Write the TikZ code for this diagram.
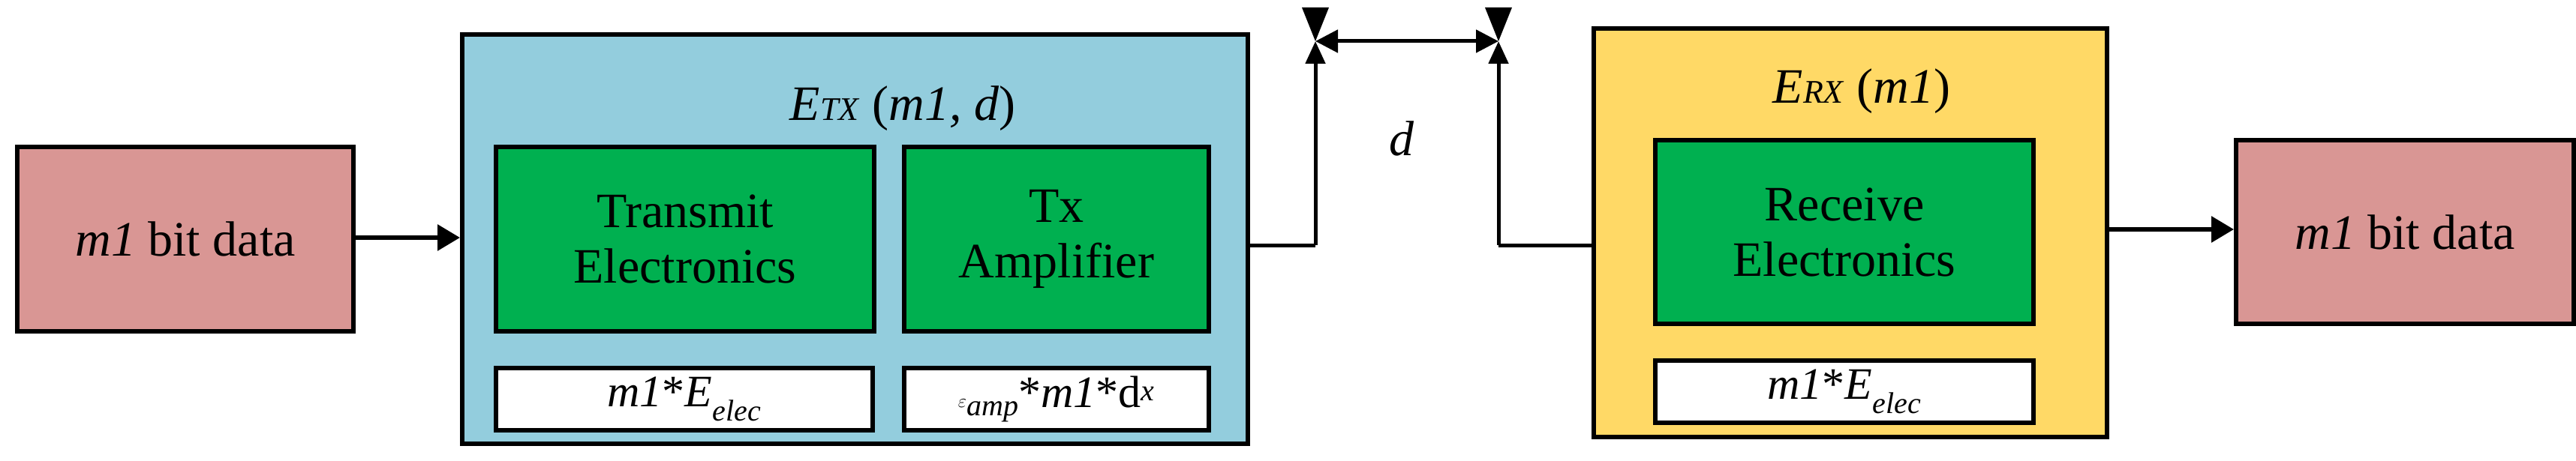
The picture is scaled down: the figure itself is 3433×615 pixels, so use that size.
\documentclass[tikz,border=0pt]{standalone}
\usepackage{fontspec}
\setmainfont{Liberation Serif}
\usetikzlibrary{arrows.meta}
\definecolor{pinkc}{HTML}{D99694}
\definecolor{bluec}{HTML}{93CDDD}
\definecolor{greenc}{HTML}{00B050}
\definecolor{yellowc}{HTML}{FFD966}
\begin{document}
\begin{tikzpicture}[x=1pt,y=-1pt,
  box/.style={draw=black,line width=6pt,minimum width=#1,inner sep=0pt,align=center},
  txt/.style={font=\fontsize{66}{74}\selectfont},
  lbl/.style={font=\fontsize{60}{66}\selectfont},
  arr/.style={line width=6pt,-{Triangle[length=30pt,width=34pt]}},
  ln/.style={line width=5pt}]
\useasboundingbox (0,0) rectangle (3433,615);
% big boxes
\node[box=1047pt,minimum height=546pt,fill=bluec,anchor=north west] (tx) at (613,43) {};
\node[box=684pt,minimum height=545pt,fill=yellowc,anchor=north west] (rx) at (2121,35) {};
\node[box=448pt,minimum height=246pt,fill=pinkc,anchor=north west,txt] (src) at (20,193) {\textit{m1} bit data};
\node[box=450pt,minimum height=245pt,fill=pinkc,anchor=north west,txt] (dst) at (2977,184) {\textit{m1} bit data};
\node[txt] (etx) at (1203,145) {\textit{E}{\fontsize{44}{50}\selectfont\textit{TX}} (\textit{m1, d})};
\node[txt] (erx) at (2481,122) {\textit{E}{\fontsize{44}{50}\selectfont\textit{RX}} (\textit{m1})};
\node[box=504pt,minimum height=246pt,fill=greenc,anchor=north west,txt] (te) at (658,193) {Transmit\\Electronics};
\node[box=406pt,minimum height=246pt,fill=greenc,anchor=north west,txt] (ta) at (1202,193) {Tx\\Amplifier};
\node[box=504pt,minimum height=245pt,fill=greenc,anchor=north west,txt] (re) at (2203,184) {Receive\\Electronics};
\node[box=502pt,minimum height=83pt,fill=white,anchor=north west,lbl] (w1) at (658,488) {\textit{m1}*\textit{E}$_{\textit{\fontsize{40}{44}\selectfont elec}}$};
\node[box=406pt,minimum height=83pt,fill=white,anchor=north west,lbl] (w2) at (1202,488) {$\varepsilon$$_{\textit{\fontsize{40}{44}\selectfont amp}}$*\textit{m1}*d$^{\fontsize{40}{44}\selectfont\textit{x}}$};
\node[box=504pt,minimum height=83pt,fill=white,anchor=north west,lbl] (w3) at (2203,478) {\textit{m1}*\textit{E}$_{\textit{\fontsize{40}{44}\selectfont elec}}$};
\node[txt] (dl) at (1868,185) {\textit{d}};
% antennas
\coordinate (a1) at (1753,55);
\coordinate (a2) at (1997,55);
\fill (1735,10) -- (1771,10) -- (a1) -- cycle;
\fill (1979,10) -- (2015,10) -- (a2) -- cycle;
\coordinate (o1) at (1753,327);
\coordinate (o2) at (1997,327);
\draw[ln] (tx.east |- o1) -- (o1);
\draw[ln,-{Triangle[length=30pt,width=26pt]}] (o1) -- (a1);
\draw[ln] (rx.west |- o2) -- (o2);
\draw[ln,-{Triangle[length=30pt,width=26pt]}] (o2) -- (a2);
\draw[ln,{Triangle[length=30pt,width=30pt]}-{Triangle[length=30pt,width=30pt]}] (a1) -- (a2);
% arrows
\draw[arr] (src.east |- 0,317) -- (tx.west |- 0,317);
\draw[arr] (rx.east |- 0,306) -- (dst.west |- 0,306);
\end{tikzpicture}
\end{document}
